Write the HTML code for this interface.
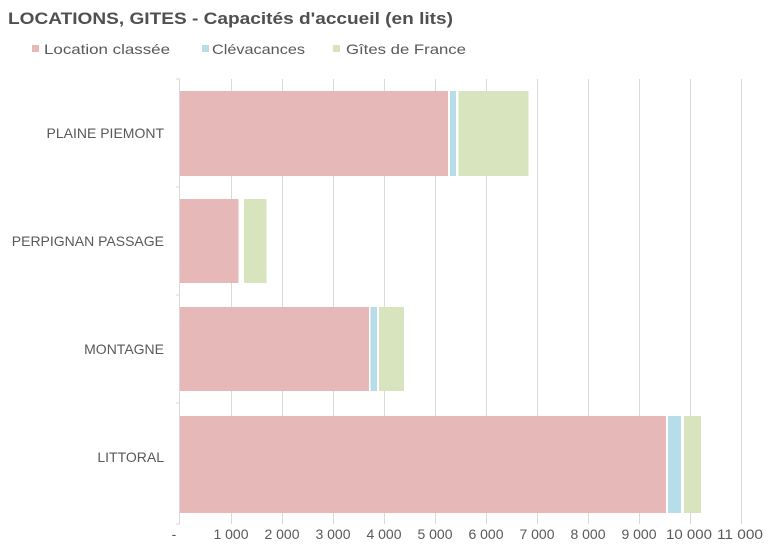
<!DOCTYPE html>
<html><head><meta charset="utf-8"><style>body{margin:0;background:#fff}svg{display:block}</style></head>
<body>
<svg width="770" height="550" xmlns="http://www.w3.org/2000/svg" font-family="Liberation Sans, sans-serif">
<text x="8" y="24" font-size="17" font-weight="bold" fill="#505050" textLength="445" lengthAdjust="spacingAndGlyphs">LOCATIONS, GITES - Capacités d'accueil (en lits)</text>
<rect x="32" y="45" width="7" height="7" fill="#e6b8b7"/>
<text x="44" y="54" font-size="14" fill="#595959" textLength="126" lengthAdjust="spacingAndGlyphs">Location classée</text>
<rect x="202" y="45" width="7" height="7" fill="#b7dde8"/>
<text x="212" y="54" font-size="14" fill="#595959" textLength="93" lengthAdjust="spacingAndGlyphs">Clévacances</text>
<rect x="333" y="45" width="7" height="7" fill="#d7e4bd"/>
<text x="346" y="54" font-size="14" fill="#595959" textLength="120" lengthAdjust="spacingAndGlyphs">Gîtes de France</text>
<g stroke="#d9d9d9" stroke-width="1">
<line x1="231.5" y1="79" x2="231.5" y2="524"/><line x1="282.5" y1="79" x2="282.5" y2="524"/>
<line x1="333.5" y1="79" x2="333.5" y2="524"/><line x1="384.5" y1="79" x2="384.5" y2="524"/>
<line x1="435.5" y1="79" x2="435.5" y2="524"/><line x1="486.5" y1="79" x2="486.5" y2="524"/>
<line x1="537.5" y1="79" x2="537.5" y2="524"/><line x1="588.5" y1="79" x2="588.5" y2="524"/>
<line x1="639.5" y1="79" x2="639.5" y2="524"/><line x1="690.5" y1="79" x2="690.5" y2="524"/>
<line x1="741.5" y1="79" x2="741.5" y2="524"/>
<line x1="179.5" y1="79" x2="179.5" y2="524"/>
<line x1="176" y1="187" x2="180" y2="187"/><line x1="176" y1="295" x2="180" y2="295"/><line x1="176" y1="403" x2="180" y2="403"/><line x1="176" y1="524" x2="180" y2="524"/><line x1="176" y1="79" x2="180" y2="79"/>
</g>
<rect x="180" y="91" width="268" height="85" fill="#e6b8b7"/>
<rect x="450" y="91" width="6" height="85" fill="#b7dde8"/>
<rect x="458.5" y="91" width="70" height="85" fill="#d7e4bd"/>
<rect x="180" y="199" width="58.5" height="84" fill="#e6b8b7"/>
<rect x="244" y="199" width="22.5" height="84" fill="#d7e4bd"/>
<rect x="180" y="307" width="189" height="84" fill="#e6b8b7"/>
<rect x="370.5" y="307" width="6.5" height="84" fill="#b7dde8"/>
<rect x="379" y="307" width="25" height="84" fill="#d7e4bd"/>
<rect x="180" y="416" width="486" height="97" fill="#e6b8b7"/>
<rect x="668" y="416" width="13" height="97" fill="#b7dde8"/>
<rect x="684" y="416" width="17" height="97" fill="#d7e4bd"/>
<g font-size="14" fill="#595959" text-anchor="end">
<text x="164" y="138">PLAINE PIEMONT</text>
<text x="164" y="246">PERPIGNAN PASSAGE</text>
<text x="164" y="354">MONTAGNE</text>
<text x="164" y="462">LITTORAL</text>
</g>
<g font-size="14" fill="#595959" text-anchor="middle">
<text x="174" y="539">-</text>
<text x="231" y="539">1 000</text><text x="282" y="539">2 000</text><text x="333" y="539">3 000</text>
<text x="384" y="539">4 000</text><text x="435" y="539">5 000</text><text x="486" y="539">6 000</text>
<text x="537" y="539">7 000</text><text x="588" y="539">8 000</text><text x="639" y="539">9 000</text>
<text x="689" y="539" textLength="46" lengthAdjust="spacingAndGlyphs">10 000</text><text x="740" y="539" textLength="46" lengthAdjust="spacingAndGlyphs">11 000</text>
</g>
</svg>
</body></html>
